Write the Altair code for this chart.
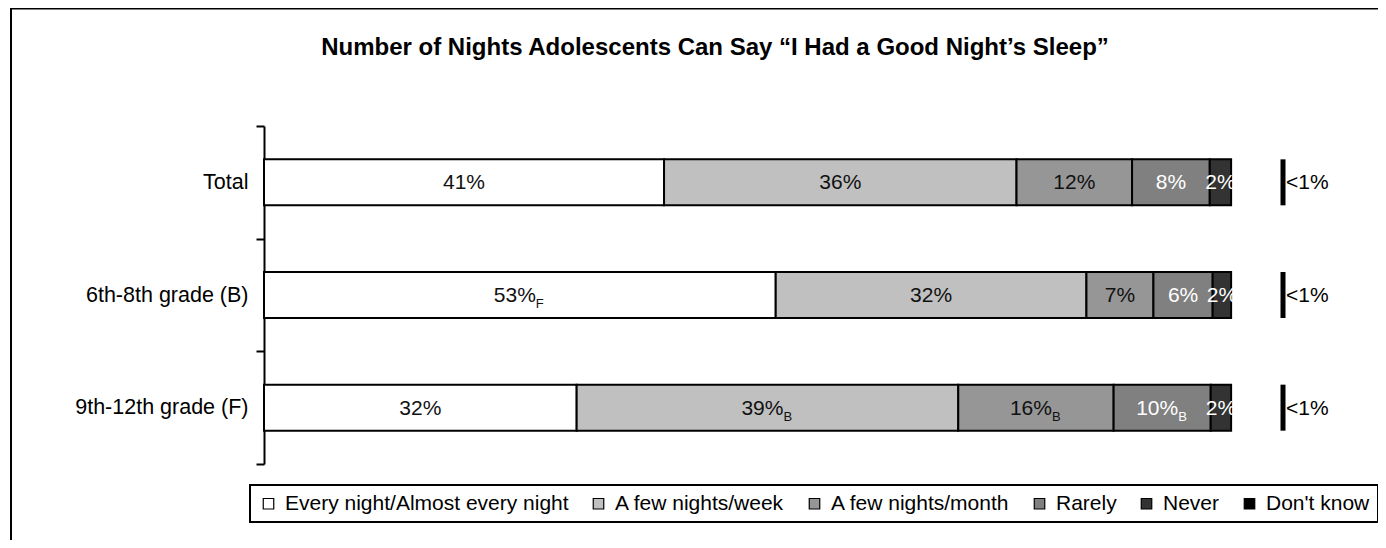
import altair as alt
import pandas as pd

title_text = ["Number of Nights Adolescents Can Say \u201cI Had a Good Night\u2019s Sleep\u201d"]
groups = ["Total", "6th-8th grade (B)", "9th-12th grade (F)"]
categories = ["Every night/Almost every night", "A few nights/week",
              "A few nights/month", "Rarely", "Never", "Don't know"]
colors = ["#FFFFFF", "#C0C0C0", "#969696", "#808080", "#333333", "#000000"]
text_colors = ["#111111", "#111111", "#111111", "#FFFFFF", "#FFFFFF"]

# percentages (Total, 6th-8th, 9th-12th)
every_night = [41.2, 52.7, 32.2]
few_week = [36.3, 32.0, 39.3]
few_month = [11.9, 6.9, 16.0]
rarely = [8.0, 6.1, 10.0]
never = [2.2, 1.9, 2.1]

# printed labels and significance subscripts
label_every = ["41%", "53%", "32%"]
sub_every = ["", "F", ""]
label_week = ["36%", "32%", "39%"]
sub_week = ["", "", "B"]
label_month = ["12%", "7%", "16%"]
sub_month = ["", "", "B"]
label_rarely = ["8%", "6%", "10%"]
sub_rarely = ["", "", "B"]
label_never = ["2%", "2%", "2%"]
sub_never = ["", "", ""]
label_dont_know = ["<1%", "<1%", "<1%"]

series = [every_night, few_week, few_month, rarely, never]
labels = [label_every, label_week, label_month, label_rarely, label_never]
subs = [sub_every, sub_week, sub_month, sub_rarely, sub_never]

rows = []
for gi, g in enumerate(groups):
    cum = 0.0
    for ci in range(5):
        v = series[ci][gi]
        rows.append({
            "group": g, "category": categories[ci], "order": ci,
            "start": cum, "end": cum + v, "mid": cum + v / 2,
            "label": labels[ci][gi], "sub": subs[ci][gi],
            "hassub": subs[ci][gi] != "", "txtcol": text_colors[ci],
        })
        cum += v
segs = pd.DataFrame(rows)
dk = pd.DataFrame({"group": groups, "label": label_dont_know})
frame_df = pd.DataFrame({"k": [0]})
title_df = pd.DataFrame({"t": title_text})

FONT = "Liberation Sans"

y_enc = alt.Y(
    "group:N", sort=groups, title=None,
    scale=alt.Scale(domain=groups, paddingInner=0, paddingOuter=0),
    axis=alt.Axis(tickBand="extent", domainColor="black", domainWidth=2,
                  tickColor="black", tickWidth=2, tickSize=8,
                  labelFontSize=21.5, labelColor="black", labelFont=FONT,
                  labelPadding=8, labelLimit=400),
)
x_scale = alt.Scale(domain=[0, 100], nice=False, zero=False)

frame = alt.Chart(frame_df).mark_rect(
    filled=False, stroke="black", strokeWidth=2
).encode(
    x=alt.value(-253), y=alt.value(-117.5), x2=alt.value(3000), y2=alt.value(3000)
)

title = alt.Chart(title_df).mark_text(
    align="center", baseline="alphabetic", fontSize=24, fontWeight="bold",
    font=FONT, color="black"
).encode(x=alt.value(451), y=alt.value(-71), text="t:N")

bars = alt.Chart(segs).mark_bar(stroke="black", strokeWidth=2, size=46).encode(
    x=alt.X("start:Q", scale=x_scale, axis=None),
    x2="end:Q",
    y=y_enc,
    color=alt.Color(
        "category:N",
        scale=alt.Scale(domain=categories, range=colors),
        legend=alt.Legend(
            orient="none", legendX=-14, legendY=359, direction="horizontal",
            columns=6, title=None, symbolType="square", symbolSize=110,
            symbolStrokeColor="black", symbolStrokeWidth=1.2,
            labelFontSize=21, labelFont=FONT, labelColor="black",
            labelLimit=500, columnPadding=19, padding=8,
            strokeColor="black", fillColor="white", labelOffset=6,
        ),
    ),
    order=alt.Order("order:Q"),
)

plain_text = alt.Chart(segs).transform_filter("!datum.hassub").mark_text(
    align="center", baseline="alphabetic", dy=7, fontSize=21, font=FONT
).encode(
    x=alt.X("mid:Q", scale=x_scale, axis=None), y=y_enc,
    text="label:N", fill=alt.Fill("txtcol:N", scale=None),
)

sub_main = alt.Chart(segs).transform_filter("datum.hassub").mark_text(
    align="right", baseline="alphabetic", dx=16, dy=7, fontSize=21, font=FONT
).encode(
    x=alt.X("mid:Q", scale=x_scale, axis=None), y=y_enc,
    text="label:N", fill=alt.Fill("txtcol:N", scale=None),
)

sub_text = alt.Chart(segs).transform_filter("datum.hassub").mark_text(
    align="left", baseline="alphabetic", dx=16, dy=13, fontSize=13, font=FONT
).encode(
    x=alt.X("mid:Q", scale=x_scale, axis=None), y=y_enc,
    text="sub:N", fill=alt.Fill("txtcol:N", scale=None),
)

dk_tick = alt.Chart(dk).mark_tick(
    orient="vertical", thickness=5, size=46, color="black", opacity=1
).encode(x=alt.value(1019), y=y_enc)

dk_text = alt.Chart(dk).mark_text(
    align="left", baseline="alphabetic", dy=7, dx=3, fontSize=21, font=FONT, color="black"
).encode(x=alt.value(1019), y=y_enc, text="label:N")

chart = alt.layer(
    frame, title, bars, plain_text, sub_main, sub_text, dk_tick, dk_text
).properties(
    width=971, height=338,
    padding={"left": 256, "top": 118, "right": 143, "bottom": 76},
    autosize=alt.AutoSizeParams(type="none"),
).configure(font=FONT).configure_view(strokeWidth=0).configure_legend(strokeWidth=2)

chart.save("out.html", embed_options={"renderer": "svg", "actions": False})
